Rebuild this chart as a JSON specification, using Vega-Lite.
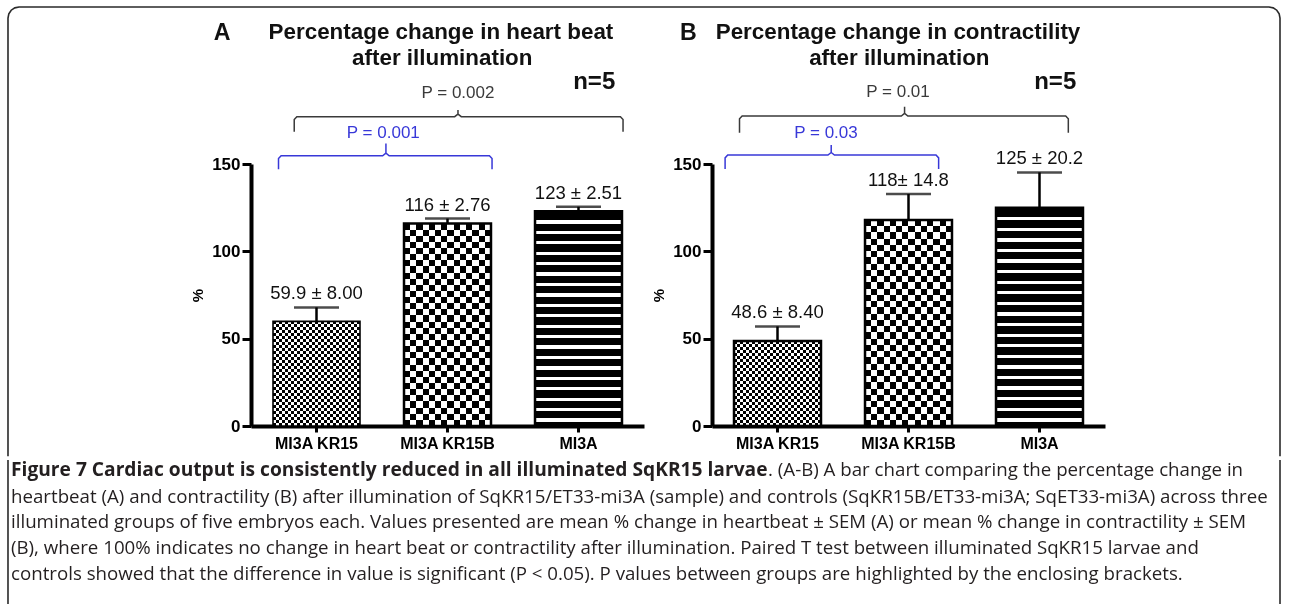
{
"$schema": "https://vega.github.io/schema/vega-lite/v6.json",
"padding": {"left": 4, "right": 0, "top": 3, "bottom": 0},
"background": "white",
"datasets": {
"barsA": [
{"group": "MI3A KR15", "mean": 59.9, "upper": 67.9, "label": "59.9 ± 8.00"},
{"group": "MI3A KR15B", "mean": 116, "upper": 118.76, "label": "116 ± 2.76"},
{"group": "MI3A", "mean": 123, "upper": 125.51, "label": "123 ± 2.51"}
],
"barsB": [
{"group": "MI3A KR15", "mean": 48.6, "upper": 57.0, "label": "48.6 ± 8.40"},
{"group": "MI3A KR15B", "mean": 118, "upper": 132.8, "label": "118± 14.8"},
{"group": "MI3A", "mean": 125, "upper": 145.2, "label": "125 ± 20.2"}
],
"brA": [
{"b": "A1", "k": "all", "o": 1, "bx": 0.83, "by": 168.5},
{"b": "A1", "k": "all", "o": 2, "bx": 0.83, "by": 175.5},
{"b": "A1", "k": "all", "o": 3, "bx": 0.85, "by": 177.1},
{"b": "A1", "k": "all", "o": 4, "bx": 2.055, "by": 177.1},
{"b": "A1", "k": "all", "o": 5, "bx": 2.08, "by": 178.6},
{"b": "A1", "k": "all", "o": 6, "bx": 2.08, "by": 180.9},
{"b": "A1", "k": "all", "o": 7, "bx": 2.08, "by": 178.6},
{"b": "A1", "k": "all", "o": 8, "bx": 2.105, "by": 177.1},
{"b": "A1", "k": "all", "o": 9, "bx": 3.32, "by": 177.1},
{"b": "A1", "k": "all", "o": 10, "bx": 3.34, "by": 175.5},
{"b": "A1", "k": "all", "o": 11, "bx": 3.34, "by": 168.5},
{"b": "A2", "k": "pair", "o": 1, "bx": 0.71, "by": 147},
{"b": "A2", "k": "pair", "o": 2, "bx": 0.71, "by": 153.1},
{"b": "A2", "k": "pair", "o": 3, "bx": 0.73, "by": 154.7},
{"b": "A2", "k": "pair", "o": 4, "bx": 1.505, "by": 154.7},
{"b": "A2", "k": "pair", "o": 5, "bx": 1.53, "by": 156.2},
{"b": "A2", "k": "pair", "o": 6, "bx": 1.53, "by": 161.8},
{"b": "A2", "k": "pair", "o": 7, "bx": 1.53, "by": 156.2},
{"b": "A2", "k": "pair", "o": 8, "bx": 1.555, "by": 154.7},
{"b": "A2", "k": "pair", "o": 9, "bx": 2.32, "by": 154.7},
{"b": "A2", "k": "pair", "o": 10, "bx": 2.34, "by": 153.1},
{"b": "A2", "k": "pair", "o": 11, "bx": 2.34, "by": 147}
],
"brB": [
{"b": "B1", "k": "all", "o": 1, "bx": 0.71, "by": 167.9},
{"b": "B1", "k": "all", "o": 2, "bx": 0.71, "by": 175.9},
{"b": "B1", "k": "all", "o": 3, "bx": 0.73, "by": 177.5},
{"b": "B1", "k": "all", "o": 4, "bx": 1.945, "by": 177.5},
{"b": "B1", "k": "all", "o": 5, "bx": 1.97, "by": 179},
{"b": "B1", "k": "all", "o": 6, "bx": 1.97, "by": 182.8},
{"b": "B1", "k": "all", "o": 7, "bx": 1.97, "by": 179},
{"b": "B1", "k": "all", "o": 8, "bx": 1.995, "by": 177.5},
{"b": "B1", "k": "all", "o": 9, "bx": 3.2, "by": 177.5},
{"b": "B1", "k": "all", "o": 10, "bx": 3.22, "by": 175.9},
{"b": "B1", "k": "all", "o": 11, "bx": 3.22, "by": 167.9},
{"b": "B2", "k": "pair", "o": 1, "bx": 0.6, "by": 147.1},
{"b": "B2", "k": "pair", "o": 2, "bx": 0.6, "by": 153.5},
{"b": "B2", "k": "pair", "o": 3, "bx": 0.62, "by": 155.1},
{"b": "B2", "k": "pair", "o": 4, "bx": 1.385, "by": 155.1},
{"b": "B2", "k": "pair", "o": 5, "bx": 1.41, "by": 156.6},
{"b": "B2", "k": "pair", "o": 6, "bx": 1.41, "by": 160.9},
{"b": "B2", "k": "pair", "o": 7, "bx": 1.41, "by": 156.6},
{"b": "B2", "k": "pair", "o": 8, "bx": 1.435, "by": 155.1},
{"b": "B2", "k": "pair", "o": 9, "bx": 2.21, "by": 155.1},
{"b": "B2", "k": "pair", "o": 10, "bx": 2.23, "by": 153.5},
{"b": "B2", "k": "pair", "o": 11, "bx": 2.23, "by": 147.1}
],
"frA": [
{"o": 1, "bx": -1.355, "by": -17.3},
{"o": 2, "bx": -1.355, "by": 233.6},
{"o": 3, "bx": -1.3486, "by": 235.99},
{"o": 4, "bx": -1.3305, "by": 238.05},
{"o": 5, "bx": -1.3031, "by": 239.4},
{"o": 6, "bx": -1.271, "by": 239.88},
{"o": 7, "bx": 3.5, "by": 239.88}
],
"frB": [
{"o": 1, "bx": -0.0191, "by": 239.88},
{"o": 2, "bx": 4.7519, "by": 239.88},
{"o": 3, "bx": 4.784, "by": 239.4},
{"o": 4, "bx": 4.8113, "by": 238.05},
{"o": 5, "bx": 4.8295, "by": 235.99},
{"o": 6, "bx": 4.8359, "by": 233.6},
{"o": 7, "bx": 4.8359, "by": -17.3}
],
"txA": [
{"k": "title", "t": "Percentage change in heart beat", "bx": 1.95, "by": 225.6},
{"k": "title", "t": "after illumination", "bx": 1.96, "by": 210.7},
{"k": "letter", "t": "A", "bx": 0.28, "by": 225},
{"k": "n", "t": "n=5", "bx": 3.12, "by": 197},
{"k": "all", "t": "P = 0.002", "bx": 2.08, "by": 190.9},
{"k": "pair", "t": "P = 0.001", "bx": 1.51, "by": 167.7}
],
"txB": [
{"k": "title", "t": "Percentage change in contractility", "bx": 1.92, "by": 225.7},
{"k": "title", "t": "after illumination", "bx": 1.93, "by": 210.5},
{"k": "letter", "t": "B", "bx": 0.32, "by": 225},
{"k": "n", "t": "n=5", "bx": 3.12, "by": 197.1},
{"k": "all", "t": "P = 0.01", "bx": 1.92, "by": 191.4},
{"k": "pair", "t": "P = 0.03", "bx": 1.37, "by": 167.6}
],
"capF": [
{"f": "L", "cx": -1.355, "cy": -15},
{"f": "L", "cx": -1.355, "cy": -101},
{"f": "R", "cx": 8.355, "cy": -15},
{"f": "R", "cx": 8.355, "cy": -101}
],
"cap": [
{"p": "b", "cx": -1.332, "cy": -20.6, "t": "Figure 7 Cardiac output is consistently reduced in all illuminated SqKR15 larvae"},
{"p": "n", "cx": 4.447, "cy": -20.6, "t": ". (A-B) A bar chart comparing the percentage change in"},
{"p": "n", "cx": -1.332, "cy": -36.06, "t": "heartbeat (A) and contractility (B) after illumination of SqKR15/ET33-mi3A (sample) and controls (SqKR15B/ET33-mi3A; SqET33-mi3A) across three"},
{"p": "n", "cx": -1.332, "cy": -50.37, "t": "illuminated groups of five embryos each. Values presented are mean % change in heartbeat ± SEM (A) or mean % change in contractility ± SEM"},
{"p": "n", "cx": -1.332, "cy": -65.26, "t": "(B), where 100% indicates no change in heart beat or contractility after illumination. Paired T test between illuminated SqKR15 larvae and"},
{"p": "n", "cx": -1.332, "cy": -80.14, "t": "controls showed that the difference in value is significant (P < 0.05). P values between groups are highlighted by the enclosing brackets."}
]
},
"vconcat": [
{
"hconcat": [
{
"width": 393, "height": 262,
"layer": [
{
"data": {"name": "barsA"},
"encoding": {
"x": {"field": "group", "type": "nominal", "title": null, "scale": {"domain": ["MI3A KR15", "MI3A KR15B", "MI3A"], "paddingInner": 0.336, "paddingOuter": 0.168}},
"y": {"field": "mean", "type": "quantitative", "title": "%", "scale": {"domain": [0, 150], "nice": false}, "axis": {"values": [0, 50, 100, 150]}}
},
"layer": [
{"transform": [{"filter": "datum.group === 'MI3A KR15'"}], "mark": {"type": "bar", "fill": {"gradient": "linear", "x1": 0, "y1": 0, "x2": 1, "y2": 0, "stops": [{"offset":0,"color":"#000"},{"offset":0.0345,"color":"#000"},{"offset":0.0345,"color":"#fff"},{"offset":0.069,"color":"#fff"},{"offset":0.069,"color":"#000"},{"offset":0.1034,"color":"#000"},{"offset":0.1034,"color":"#fff"},{"offset":0.1379,"color":"#fff"},{"offset":0.1379,"color":"#000"},{"offset":0.1724,"color":"#000"},{"offset":0.1724,"color":"#fff"},{"offset":0.2069,"color":"#fff"},{"offset":0.2069,"color":"#000"},{"offset":0.2414,"color":"#000"},{"offset":0.2414,"color":"#fff"},{"offset":0.2759,"color":"#fff"},{"offset":0.2759,"color":"#000"},{"offset":0.3103,"color":"#000"},{"offset":0.3103,"color":"#fff"},{"offset":0.3448,"color":"#fff"},{"offset":0.3448,"color":"#000"},{"offset":0.3793,"color":"#000"},{"offset":0.3793,"color":"#fff"},{"offset":0.4138,"color":"#fff"},{"offset":0.4138,"color":"#000"},{"offset":0.4483,"color":"#000"},{"offset":0.4483,"color":"#fff"},{"offset":0.4828,"color":"#fff"},{"offset":0.4828,"color":"#000"},{"offset":0.5172,"color":"#000"},{"offset":0.5172,"color":"#fff"},{"offset":0.5517,"color":"#fff"},{"offset":0.5517,"color":"#000"},{"offset":0.5862,"color":"#000"},{"offset":0.5862,"color":"#fff"},{"offset":0.6207,"color":"#fff"},{"offset":0.6207,"color":"#000"},{"offset":0.6552,"color":"#000"},{"offset":0.6552,"color":"#fff"},{"offset":0.6897,"color":"#fff"},{"offset":0.6897,"color":"#000"},{"offset":0.7241,"color":"#000"},{"offset":0.7241,"color":"#fff"},{"offset":0.7586,"color":"#fff"},{"offset":0.7586,"color":"#000"},{"offset":0.7931,"color":"#000"},{"offset":0.7931,"color":"#fff"},{"offset":0.8276,"color":"#fff"},{"offset":0.8276,"color":"#000"},{"offset":0.8621,"color":"#000"},{"offset":0.8621,"color":"#fff"},{"offset":0.8966,"color":"#fff"},{"offset":0.8966,"color":"#000"},{"offset":0.931,"color":"#000"},{"offset":0.931,"color":"#fff"},{"offset":0.9655,"color":"#fff"},{"offset":0.9655,"color":"#000"},{"offset":1,"color":"#000"}]}}},
{"transform": [{"filter": "datum.group === 'MI3A KR15'"}], "mark": {"type": "bar", "blend": "difference", "fill": {"gradient": "linear", "x1": 0, "y1": 0, "x2": 0, "y2": 1, "stops": [{"offset":0,"color":"#000"},{"offset":0.0286,"color":"#000"},{"offset":0.0286,"color":"#fff"},{"offset":0.0571,"color":"#fff"},{"offset":0.0571,"color":"#000"},{"offset":0.0857,"color":"#000"},{"offset":0.0857,"color":"#fff"},{"offset":0.1143,"color":"#fff"},{"offset":0.1143,"color":"#000"},{"offset":0.1429,"color":"#000"},{"offset":0.1429,"color":"#fff"},{"offset":0.1714,"color":"#fff"},{"offset":0.1714,"color":"#000"},{"offset":0.2,"color":"#000"},{"offset":0.2,"color":"#fff"},{"offset":0.2286,"color":"#fff"},{"offset":0.2286,"color":"#000"},{"offset":0.2571,"color":"#000"},{"offset":0.2571,"color":"#fff"},{"offset":0.2857,"color":"#fff"},{"offset":0.2857,"color":"#000"},{"offset":0.3143,"color":"#000"},{"offset":0.3143,"color":"#fff"},{"offset":0.3429,"color":"#fff"},{"offset":0.3429,"color":"#000"},{"offset":0.3714,"color":"#000"},{"offset":0.3714,"color":"#fff"},{"offset":0.4,"color":"#fff"},{"offset":0.4,"color":"#000"},{"offset":0.4286,"color":"#000"},{"offset":0.4286,"color":"#fff"},{"offset":0.4571,"color":"#fff"},{"offset":0.4571,"color":"#000"},{"offset":0.4857,"color":"#000"},{"offset":0.4857,"color":"#fff"},{"offset":0.5143,"color":"#fff"},{"offset":0.5143,"color":"#000"},{"offset":0.5429,"color":"#000"},{"offset":0.5429,"color":"#fff"},{"offset":0.5714,"color":"#fff"},{"offset":0.5714,"color":"#000"},{"offset":0.6,"color":"#000"},{"offset":0.6,"color":"#fff"},{"offset":0.6286,"color":"#fff"},{"offset":0.6286,"color":"#000"},{"offset":0.6571,"color":"#000"},{"offset":0.6571,"color":"#fff"},{"offset":0.6857,"color":"#fff"},{"offset":0.6857,"color":"#000"},{"offset":0.7143,"color":"#000"},{"offset":0.7143,"color":"#fff"},{"offset":0.7429,"color":"#fff"},{"offset":0.7429,"color":"#000"},{"offset":0.7714,"color":"#000"},{"offset":0.7714,"color":"#fff"},{"offset":0.8,"color":"#fff"},{"offset":0.8,"color":"#000"},{"offset":0.8286,"color":"#000"},{"offset":0.8286,"color":"#fff"},{"offset":0.8571,"color":"#fff"},{"offset":0.8571,"color":"#000"},{"offset":0.8857,"color":"#000"},{"offset":0.8857,"color":"#fff"},{"offset":0.9143,"color":"#fff"},{"offset":0.9143,"color":"#000"},{"offset":0.9429,"color":"#000"},{"offset":0.9429,"color":"#fff"},{"offset":0.9714,"color":"#fff"},{"offset":0.9714,"color":"#000"},{"offset":1,"color":"#000"}]}}},
{"transform": [{"filter": "datum.group === 'MI3A KR15B'"}], "mark": {"type": "bar", "fill": {"gradient": "linear", "x1": 0, "y1": 0, "x2": 1, "y2": 0, "stops": [{"offset":0,"color":"#000"},{"offset":0.0714,"color":"#000"},{"offset":0.0714,"color":"#fff"},{"offset":0.1429,"color":"#fff"},{"offset":0.1429,"color":"#000"},{"offset":0.2143,"color":"#000"},{"offset":0.2143,"color":"#fff"},{"offset":0.2857,"color":"#fff"},{"offset":0.2857,"color":"#000"},{"offset":0.3571,"color":"#000"},{"offset":0.3571,"color":"#fff"},{"offset":0.4286,"color":"#fff"},{"offset":0.4286,"color":"#000"},{"offset":0.5,"color":"#000"},{"offset":0.5,"color":"#fff"},{"offset":0.5714,"color":"#fff"},{"offset":0.5714,"color":"#000"},{"offset":0.6429,"color":"#000"},{"offset":0.6429,"color":"#fff"},{"offset":0.7143,"color":"#fff"},{"offset":0.7143,"color":"#000"},{"offset":0.7857,"color":"#000"},{"offset":0.7857,"color":"#fff"},{"offset":0.8571,"color":"#fff"},{"offset":0.8571,"color":"#000"},{"offset":0.9286,"color":"#000"},{"offset":0.9286,"color":"#fff"},{"offset":1,"color":"#fff"}]}}},
{"transform": [{"filter": "datum.group === 'MI3A KR15B'"}], "mark": {"type": "bar", "blend": "difference", "fill": {"gradient": "linear", "x1": 0, "y1": 0, "x2": 0, "y2": 1, "stops": [{"offset":0,"color":"#000"},{"offset":0.0303,"color":"#000"},{"offset":0.0303,"color":"#fff"},{"offset":0.0606,"color":"#fff"},{"offset":0.0606,"color":"#000"},{"offset":0.0909,"color":"#000"},{"offset":0.0909,"color":"#fff"},{"offset":0.1212,"color":"#fff"},{"offset":0.1212,"color":"#000"},{"offset":0.1515,"color":"#000"},{"offset":0.1515,"color":"#fff"},{"offset":0.1818,"color":"#fff"},{"offset":0.1818,"color":"#000"},{"offset":0.2121,"color":"#000"},{"offset":0.2121,"color":"#fff"},{"offset":0.2424,"color":"#fff"},{"offset":0.2424,"color":"#000"},{"offset":0.2727,"color":"#000"},{"offset":0.2727,"color":"#fff"},{"offset":0.303,"color":"#fff"},{"offset":0.303,"color":"#000"},{"offset":0.3333,"color":"#000"},{"offset":0.3333,"color":"#fff"},{"offset":0.3636,"color":"#fff"},{"offset":0.3636,"color":"#000"},{"offset":0.3939,"color":"#000"},{"offset":0.3939,"color":"#fff"},{"offset":0.4242,"color":"#fff"},{"offset":0.4242,"color":"#000"},{"offset":0.4545,"color":"#000"},{"offset":0.4545,"color":"#fff"},{"offset":0.4848,"color":"#fff"},{"offset":0.4848,"color":"#000"},{"offset":0.5152,"color":"#000"},{"offset":0.5152,"color":"#fff"},{"offset":0.5455,"color":"#fff"},{"offset":0.5455,"color":"#000"},{"offset":0.5758,"color":"#000"},{"offset":0.5758,"color":"#fff"},{"offset":0.6061,"color":"#fff"},{"offset":0.6061,"color":"#000"},{"offset":0.6364,"color":"#000"},{"offset":0.6364,"color":"#fff"},{"offset":0.6667,"color":"#fff"},{"offset":0.6667,"color":"#000"},{"offset":0.697,"color":"#000"},{"offset":0.697,"color":"#fff"},{"offset":0.7273,"color":"#fff"},{"offset":0.7273,"color":"#000"},{"offset":0.7576,"color":"#000"},{"offset":0.7576,"color":"#fff"},{"offset":0.7879,"color":"#fff"},{"offset":0.7879,"color":"#000"},{"offset":0.8182,"color":"#000"},{"offset":0.8182,"color":"#fff"},{"offset":0.8485,"color":"#fff"},{"offset":0.8485,"color":"#000"},{"offset":0.8788,"color":"#000"},{"offset":0.8788,"color":"#fff"},{"offset":0.9091,"color":"#fff"},{"offset":0.9091,"color":"#000"},{"offset":0.9394,"color":"#000"},{"offset":0.9394,"color":"#fff"},{"offset":0.9697,"color":"#fff"},{"offset":0.9697,"color":"#000"},{"offset":1,"color":"#000"}]}}},
{"transform": [{"filter": "datum.group === 'MI3A'"}], "mark": {"type": "bar", "fill": {"gradient": "linear", "x1": 0, "y1": 0, "x2": 0, "y2": 1, "stops": [{"offset":0,"color":"#000"},{"offset":0.0429,"color":"#000"},{"offset":0.0429,"color":"#fff"},{"offset":0.0581,"color":"#fff"},{"offset":0.0581,"color":"#000"},{"offset":0.0914,"color":"#000"},{"offset":0.0914,"color":"#fff"},{"offset":0.1066,"color":"#fff"},{"offset":0.1066,"color":"#000"},{"offset":0.1399,"color":"#000"},{"offset":0.1399,"color":"#fff"},{"offset":0.1551,"color":"#fff"},{"offset":0.1551,"color":"#000"},{"offset":0.1884,"color":"#000"},{"offset":0.1884,"color":"#fff"},{"offset":0.2036,"color":"#fff"},{"offset":0.2036,"color":"#000"},{"offset":0.2369,"color":"#000"},{"offset":0.2369,"color":"#fff"},{"offset":0.2521,"color":"#fff"},{"offset":0.2521,"color":"#000"},{"offset":0.2854,"color":"#000"},{"offset":0.2854,"color":"#fff"},{"offset":0.3006,"color":"#fff"},{"offset":0.3006,"color":"#000"},{"offset":0.3339,"color":"#000"},{"offset":0.3339,"color":"#fff"},{"offset":0.3491,"color":"#fff"},{"offset":0.3491,"color":"#000"},{"offset":0.3824,"color":"#000"},{"offset":0.3824,"color":"#fff"},{"offset":0.3976,"color":"#fff"},{"offset":0.3976,"color":"#000"},{"offset":0.4309,"color":"#000"},{"offset":0.4309,"color":"#fff"},{"offset":0.4461,"color":"#fff"},{"offset":0.4461,"color":"#000"},{"offset":0.4794,"color":"#000"},{"offset":0.4794,"color":"#fff"},{"offset":0.4946,"color":"#fff"},{"offset":0.4946,"color":"#000"},{"offset":0.5279,"color":"#000"},{"offset":0.5279,"color":"#fff"},{"offset":0.5431,"color":"#fff"},{"offset":0.5431,"color":"#000"},{"offset":0.5764,"color":"#000"},{"offset":0.5764,"color":"#fff"},{"offset":0.5916,"color":"#fff"},{"offset":0.5916,"color":"#000"},{"offset":0.6249,"color":"#000"},{"offset":0.6249,"color":"#fff"},{"offset":0.6401,"color":"#fff"},{"offset":0.6401,"color":"#000"},{"offset":0.6734,"color":"#000"},{"offset":0.6734,"color":"#fff"},{"offset":0.6886,"color":"#fff"},{"offset":0.6886,"color":"#000"},{"offset":0.7219,"color":"#000"},{"offset":0.7219,"color":"#fff"},{"offset":0.7371,"color":"#fff"},{"offset":0.7371,"color":"#000"},{"offset":0.7704,"color":"#000"},{"offset":0.7704,"color":"#fff"},{"offset":0.7856,"color":"#fff"},{"offset":0.7856,"color":"#000"},{"offset":0.8189,"color":"#000"},{"offset":0.8189,"color":"#fff"},{"offset":0.8341,"color":"#fff"},{"offset":0.8341,"color":"#000"},{"offset":0.8674,"color":"#000"},{"offset":0.8674,"color":"#fff"},{"offset":0.8826,"color":"#fff"},{"offset":0.8826,"color":"#000"},{"offset":0.9159,"color":"#000"},{"offset":0.9159,"color":"#fff"},{"offset":0.9311,"color":"#fff"},{"offset":0.9311,"color":"#000"},{"offset":0.9644,"color":"#000"},{"offset":0.9644,"color":"#fff"},{"offset":0.9796,"color":"#fff"},{"offset":0.9796,"color":"#000"},{"offset":1,"color":"#000"}]}}},
{"transform": [{"filter": "datum.group === 'MI3A KR15'"}], "mark": {"type": "bar", "fillOpacity": 0, "stroke": "#000", "strokeWidth": 1.6}},
{"transform": [{"filter": "datum.group !== 'MI3A KR15'"}], "mark": {"type": "bar", "fillOpacity": 0, "stroke": "#000", "strokeWidth": 2.5}},
{"mark": {"type": "rule", "color": "#000", "strokeWidth": 2.5}, "encoding": {"y2": {"field": "upper"}}},
{"mark": {"type": "tick", "color": "#000", "size": 45, "thickness": 2.5}, "encoding": {"y": {"field": "upper", "type": "quantitative", "title": "%"}}},
{"mark": {"type": "text", "baseline": "bottom", "dy": -4, "fontSize": 18.5, "color": "#111"}, "encoding": {"y": {"field": "upper", "type": "quantitative", "title": "%"}, "text": {"field": "label"}}}
]
},
{
"encoding": {
"x": {"field": "bx", "type": "quantitative", "axis": null, "scale": {"domain": [0.5, 3.5], "nice": false, "zero": false}},
"y": {"field": "by", "type": "quantitative", "title": "%", "scale": {"domain": [0, 150], "nice": false}}
},
"layer": [
{"data": {"name": "frA"}, "mark": {"type": "line", "strokeWidth": 1.6, "color": "#2a2a2a"}, "encoding": {"order": {"field": "o", "type": "quantitative"}}},
{"data": {"name": "brA"}, "mark": {"type": "line", "strokeWidth": 1.5}, "encoding": {"detail": {"field": "b"}, "order": {"field": "o", "type": "quantitative"}, "color": {"field": "k", "type": "nominal", "scale": {"domain": ["all", "pair"], "range": ["#3a3a3a", "#3838d8"]}, "legend": null}}},
{"data": {"name": "txA"}, "transform": [{"filter": "datum.k !== 'all' && datum.k !== 'pair'"}], "mark": {"type": "text", "fontWeight": "bold", "baseline": "middle", "color": "#111"}, "encoding": {"text": {"field": "t"}, "size": {"field": "k", "type": "nominal", "scale": {"domain": ["title", "letter", "n"], "range": [22.4, 24, 18]}, "legend": null}}},
{"data": {"name": "txA"}, "transform": [{"filter": "datum.k === 'all' || datum.k === 'pair'"}], "mark": {"type": "text", "baseline": "middle", "fontSize": 17}, "encoding": {"text": {"field": "t"}, "color": {"field": "k", "type": "nominal", "scale": {"domain": ["all", "pair"], "range": ["#3a3a3a", "#3838d8"]}, "legend": null}}}
]
}
],
"resolve": {"scale": {"x": "independent"}}
},
{
"width": 393, "height": 262,
"layer": [
{
"data": {"name": "barsB"},
"encoding": {
"x": {"field": "group", "type": "nominal", "title": null, "scale": {"domain": ["MI3A KR15", "MI3A KR15B", "MI3A"], "paddingInner": 0.336, "paddingOuter": 0.168}},
"y": {"field": "mean", "type": "quantitative", "title": "%", "scale": {"domain": [0, 150], "nice": false}, "axis": {"values": [0, 50, 100, 150]}}
},
"layer": [
{"transform": [{"filter": "datum.group === 'MI3A KR15'"}], "mark": {"type": "bar", "fill": {"gradient": "linear", "x1": 0, "y1": 0, "x2": 1, "y2": 0, "stops": [{"offset":0,"color":"#000"},{"offset":0.0345,"color":"#000"},{"offset":0.0345,"color":"#fff"},{"offset":0.069,"color":"#fff"},{"offset":0.069,"color":"#000"},{"offset":0.1034,"color":"#000"},{"offset":0.1034,"color":"#fff"},{"offset":0.1379,"color":"#fff"},{"offset":0.1379,"color":"#000"},{"offset":0.1724,"color":"#000"},{"offset":0.1724,"color":"#fff"},{"offset":0.2069,"color":"#fff"},{"offset":0.2069,"color":"#000"},{"offset":0.2414,"color":"#000"},{"offset":0.2414,"color":"#fff"},{"offset":0.2759,"color":"#fff"},{"offset":0.2759,"color":"#000"},{"offset":0.3103,"color":"#000"},{"offset":0.3103,"color":"#fff"},{"offset":0.3448,"color":"#fff"},{"offset":0.3448,"color":"#000"},{"offset":0.3793,"color":"#000"},{"offset":0.3793,"color":"#fff"},{"offset":0.4138,"color":"#fff"},{"offset":0.4138,"color":"#000"},{"offset":0.4483,"color":"#000"},{"offset":0.4483,"color":"#fff"},{"offset":0.4828,"color":"#fff"},{"offset":0.4828,"color":"#000"},{"offset":0.5172,"color":"#000"},{"offset":0.5172,"color":"#fff"},{"offset":0.5517,"color":"#fff"},{"offset":0.5517,"color":"#000"},{"offset":0.5862,"color":"#000"},{"offset":0.5862,"color":"#fff"},{"offset":0.6207,"color":"#fff"},{"offset":0.6207,"color":"#000"},{"offset":0.6552,"color":"#000"},{"offset":0.6552,"color":"#fff"},{"offset":0.6897,"color":"#fff"},{"offset":0.6897,"color":"#000"},{"offset":0.7241,"color":"#000"},{"offset":0.7241,"color":"#fff"},{"offset":0.7586,"color":"#fff"},{"offset":0.7586,"color":"#000"},{"offset":0.7931,"color":"#000"},{"offset":0.7931,"color":"#fff"},{"offset":0.8276,"color":"#fff"},{"offset":0.8276,"color":"#000"},{"offset":0.8621,"color":"#000"},{"offset":0.8621,"color":"#fff"},{"offset":0.8966,"color":"#fff"},{"offset":0.8966,"color":"#000"},{"offset":0.931,"color":"#000"},{"offset":0.931,"color":"#fff"},{"offset":0.9655,"color":"#fff"},{"offset":0.9655,"color":"#000"},{"offset":1,"color":"#000"}]}}},
{"transform": [{"filter": "datum.group === 'MI3A KR15'"}], "mark": {"type": "bar", "blend": "difference", "fill": {"gradient": "linear", "x1": 0, "y1": 0, "x2": 0, "y2": 1, "stops": [{"offset":0,"color":"#000"},{"offset":0.0357,"color":"#000"},{"offset":0.0357,"color":"#fff"},{"offset":0.0714,"color":"#fff"},{"offset":0.0714,"color":"#000"},{"offset":0.1071,"color":"#000"},{"offset":0.1071,"color":"#fff"},{"offset":0.1429,"color":"#fff"},{"offset":0.1429,"color":"#000"},{"offset":0.1786,"color":"#000"},{"offset":0.1786,"color":"#fff"},{"offset":0.2143,"color":"#fff"},{"offset":0.2143,"color":"#000"},{"offset":0.25,"color":"#000"},{"offset":0.25,"color":"#fff"},{"offset":0.2857,"color":"#fff"},{"offset":0.2857,"color":"#000"},{"offset":0.3214,"color":"#000"},{"offset":0.3214,"color":"#fff"},{"offset":0.3571,"color":"#fff"},{"offset":0.3571,"color":"#000"},{"offset":0.3929,"color":"#000"},{"offset":0.3929,"color":"#fff"},{"offset":0.4286,"color":"#fff"},{"offset":0.4286,"color":"#000"},{"offset":0.4643,"color":"#000"},{"offset":0.4643,"color":"#fff"},{"offset":0.5,"color":"#fff"},{"offset":0.5,"color":"#000"},{"offset":0.5357,"color":"#000"},{"offset":0.5357,"color":"#fff"},{"offset":0.5714,"color":"#fff"},{"offset":0.5714,"color":"#000"},{"offset":0.6071,"color":"#000"},{"offset":0.6071,"color":"#fff"},{"offset":0.6429,"color":"#fff"},{"offset":0.6429,"color":"#000"},{"offset":0.6786,"color":"#000"},{"offset":0.6786,"color":"#fff"},{"offset":0.7143,"color":"#fff"},{"offset":0.7143,"color":"#000"},{"offset":0.75,"color":"#000"},{"offset":0.75,"color":"#fff"},{"offset":0.7857,"color":"#fff"},{"offset":0.7857,"color":"#000"},{"offset":0.8214,"color":"#000"},{"offset":0.8214,"color":"#fff"},{"offset":0.8571,"color":"#fff"},{"offset":0.8571,"color":"#000"},{"offset":0.8929,"color":"#000"},{"offset":0.8929,"color":"#fff"},{"offset":0.9286,"color":"#fff"},{"offset":0.9286,"color":"#000"},{"offset":0.9643,"color":"#000"},{"offset":0.9643,"color":"#fff"},{"offset":1,"color":"#fff"}]}}},
{"transform": [{"filter": "datum.group === 'MI3A KR15B'"}], "mark": {"type": "bar", "fill": {"gradient": "linear", "x1": 0, "y1": 0, "x2": 1, "y2": 0, "stops": [{"offset":0,"color":"#000"},{"offset":0.0714,"color":"#000"},{"offset":0.0714,"color":"#fff"},{"offset":0.1429,"color":"#fff"},{"offset":0.1429,"color":"#000"},{"offset":0.2143,"color":"#000"},{"offset":0.2143,"color":"#fff"},{"offset":0.2857,"color":"#fff"},{"offset":0.2857,"color":"#000"},{"offset":0.3571,"color":"#000"},{"offset":0.3571,"color":"#fff"},{"offset":0.4286,"color":"#fff"},{"offset":0.4286,"color":"#000"},{"offset":0.5,"color":"#000"},{"offset":0.5,"color":"#fff"},{"offset":0.5714,"color":"#fff"},{"offset":0.5714,"color":"#000"},{"offset":0.6429,"color":"#000"},{"offset":0.6429,"color":"#fff"},{"offset":0.7143,"color":"#fff"},{"offset":0.7143,"color":"#000"},{"offset":0.7857,"color":"#000"},{"offset":0.7857,"color":"#fff"},{"offset":0.8571,"color":"#fff"},{"offset":0.8571,"color":"#000"},{"offset":0.9286,"color":"#000"},{"offset":0.9286,"color":"#fff"},{"offset":1,"color":"#fff"}]}}},
{"transform": [{"filter": "datum.group === 'MI3A KR15B'"}], "mark": {"type": "bar", "blend": "difference", "fill": {"gradient": "linear", "x1": 0, "y1": 0, "x2": 0, "y2": 1, "stops": [{"offset":0,"color":"#000"},{"offset":0.0303,"color":"#000"},{"offset":0.0303,"color":"#fff"},{"offset":0.0606,"color":"#fff"},{"offset":0.0606,"color":"#000"},{"offset":0.0909,"color":"#000"},{"offset":0.0909,"color":"#fff"},{"offset":0.1212,"color":"#fff"},{"offset":0.1212,"color":"#000"},{"offset":0.1515,"color":"#000"},{"offset":0.1515,"color":"#fff"},{"offset":0.1818,"color":"#fff"},{"offset":0.1818,"color":"#000"},{"offset":0.2121,"color":"#000"},{"offset":0.2121,"color":"#fff"},{"offset":0.2424,"color":"#fff"},{"offset":0.2424,"color":"#000"},{"offset":0.2727,"color":"#000"},{"offset":0.2727,"color":"#fff"},{"offset":0.303,"color":"#fff"},{"offset":0.303,"color":"#000"},{"offset":0.3333,"color":"#000"},{"offset":0.3333,"color":"#fff"},{"offset":0.3636,"color":"#fff"},{"offset":0.3636,"color":"#000"},{"offset":0.3939,"color":"#000"},{"offset":0.3939,"color":"#fff"},{"offset":0.4242,"color":"#fff"},{"offset":0.4242,"color":"#000"},{"offset":0.4545,"color":"#000"},{"offset":0.4545,"color":"#fff"},{"offset":0.4848,"color":"#fff"},{"offset":0.4848,"color":"#000"},{"offset":0.5152,"color":"#000"},{"offset":0.5152,"color":"#fff"},{"offset":0.5455,"color":"#fff"},{"offset":0.5455,"color":"#000"},{"offset":0.5758,"color":"#000"},{"offset":0.5758,"color":"#fff"},{"offset":0.6061,"color":"#fff"},{"offset":0.6061,"color":"#000"},{"offset":0.6364,"color":"#000"},{"offset":0.6364,"color":"#fff"},{"offset":0.6667,"color":"#fff"},{"offset":0.6667,"color":"#000"},{"offset":0.697,"color":"#000"},{"offset":0.697,"color":"#fff"},{"offset":0.7273,"color":"#fff"},{"offset":0.7273,"color":"#000"},{"offset":0.7576,"color":"#000"},{"offset":0.7576,"color":"#fff"},{"offset":0.7879,"color":"#fff"},{"offset":0.7879,"color":"#000"},{"offset":0.8182,"color":"#000"},{"offset":0.8182,"color":"#fff"},{"offset":0.8485,"color":"#fff"},{"offset":0.8485,"color":"#000"},{"offset":0.8788,"color":"#000"},{"offset":0.8788,"color":"#fff"},{"offset":0.9091,"color":"#fff"},{"offset":0.9091,"color":"#000"},{"offset":0.9394,"color":"#000"},{"offset":0.9394,"color":"#fff"},{"offset":0.9697,"color":"#fff"},{"offset":0.9697,"color":"#000"},{"offset":1,"color":"#000"}]}}},
{"transform": [{"filter": "datum.group === 'MI3A'"}], "mark": {"type": "bar", "fill": {"gradient": "linear", "x1": 0, "y1": 0, "x2": 0, "y2": 1, "stops": [{"offset":0,"color":"#000"},{"offset":0.0429,"color":"#000"},{"offset":0.0429,"color":"#fff"},{"offset":0.0581,"color":"#fff"},{"offset":0.0581,"color":"#000"},{"offset":0.0914,"color":"#000"},{"offset":0.0914,"color":"#fff"},{"offset":0.1066,"color":"#fff"},{"offset":0.1066,"color":"#000"},{"offset":0.1399,"color":"#000"},{"offset":0.1399,"color":"#fff"},{"offset":0.1551,"color":"#fff"},{"offset":0.1551,"color":"#000"},{"offset":0.1884,"color":"#000"},{"offset":0.1884,"color":"#fff"},{"offset":0.2036,"color":"#fff"},{"offset":0.2036,"color":"#000"},{"offset":0.2369,"color":"#000"},{"offset":0.2369,"color":"#fff"},{"offset":0.2521,"color":"#fff"},{"offset":0.2521,"color":"#000"},{"offset":0.2854,"color":"#000"},{"offset":0.2854,"color":"#fff"},{"offset":0.3006,"color":"#fff"},{"offset":0.3006,"color":"#000"},{"offset":0.3339,"color":"#000"},{"offset":0.3339,"color":"#fff"},{"offset":0.3491,"color":"#fff"},{"offset":0.3491,"color":"#000"},{"offset":0.3824,"color":"#000"},{"offset":0.3824,"color":"#fff"},{"offset":0.3976,"color":"#fff"},{"offset":0.3976,"color":"#000"},{"offset":0.4309,"color":"#000"},{"offset":0.4309,"color":"#fff"},{"offset":0.4461,"color":"#fff"},{"offset":0.4461,"color":"#000"},{"offset":0.4794,"color":"#000"},{"offset":0.4794,"color":"#fff"},{"offset":0.4946,"color":"#fff"},{"offset":0.4946,"color":"#000"},{"offset":0.5279,"color":"#000"},{"offset":0.5279,"color":"#fff"},{"offset":0.5431,"color":"#fff"},{"offset":0.5431,"color":"#000"},{"offset":0.5764,"color":"#000"},{"offset":0.5764,"color":"#fff"},{"offset":0.5916,"color":"#fff"},{"offset":0.5916,"color":"#000"},{"offset":0.6249,"color":"#000"},{"offset":0.6249,"color":"#fff"},{"offset":0.6401,"color":"#fff"},{"offset":0.6401,"color":"#000"},{"offset":0.6734,"color":"#000"},{"offset":0.6734,"color":"#fff"},{"offset":0.6886,"color":"#fff"},{"offset":0.6886,"color":"#000"},{"offset":0.7219,"color":"#000"},{"offset":0.7219,"color":"#fff"},{"offset":0.7371,"color":"#fff"},{"offset":0.7371,"color":"#000"},{"offset":0.7704,"color":"#000"},{"offset":0.7704,"color":"#fff"},{"offset":0.7856,"color":"#fff"},{"offset":0.7856,"color":"#000"},{"offset":0.8189,"color":"#000"},{"offset":0.8189,"color":"#fff"},{"offset":0.8341,"color":"#fff"},{"offset":0.8341,"color":"#000"},{"offset":0.8674,"color":"#000"},{"offset":0.8674,"color":"#fff"},{"offset":0.8826,"color":"#fff"},{"offset":0.8826,"color":"#000"},{"offset":0.9159,"color":"#000"},{"offset":0.9159,"color":"#fff"},{"offset":0.9311,"color":"#fff"},{"offset":0.9311,"color":"#000"},{"offset":0.9644,"color":"#000"},{"offset":0.9644,"color":"#fff"},{"offset":0.9796,"color":"#fff"},{"offset":0.9796,"color":"#000"},{"offset":1,"color":"#000"}]}}},
{"transform": [{"filter": "datum.group === 'MI3A KR15'"}], "mark": {"type": "bar", "fillOpacity": 0, "stroke": "#000", "strokeWidth": 2.5}},
{"transform": [{"filter": "datum.group !== 'MI3A KR15'"}], "mark": {"type": "bar", "fillOpacity": 0, "stroke": "#000", "strokeWidth": 2.5}},
{"mark": {"type": "rule", "color": "#000", "strokeWidth": 2.5}, "encoding": {"y2": {"field": "upper"}}},
{"mark": {"type": "tick", "color": "#000", "size": 45, "thickness": 2.5}, "encoding": {"y": {"field": "upper", "type": "quantitative", "title": "%"}}},
{"mark": {"type": "text", "baseline": "bottom", "dy": -4, "fontSize": 18.5, "color": "#111"}, "encoding": {"y": {"field": "upper", "type": "quantitative", "title": "%"}, "text": {"field": "label"}}}
]
},
{
"encoding": {
"x": {"field": "bx", "type": "quantitative", "axis": null, "scale": {"domain": [0.5, 3.5], "nice": false, "zero": false}},
"y": {"field": "by", "type": "quantitative", "title": "%", "scale": {"domain": [0, 150], "nice": false}}
},
"layer": [
{"data": {"name": "frB"}, "mark": {"type": "line", "strokeWidth": 1.6, "color": "#2a2a2a"}, "encoding": {"order": {"field": "o", "type": "quantitative"}}},
{"data": {"name": "brB"}, "mark": {"type": "line", "strokeWidth": 1.5}, "encoding": {"detail": {"field": "b"}, "order": {"field": "o", "type": "quantitative"}, "color": {"field": "k", "type": "nominal", "scale": {"domain": ["all", "pair"], "range": ["#3a3a3a", "#3838d8"]}, "legend": null}}},
{"data": {"name": "txB"}, "transform": [{"filter": "datum.k !== 'all' && datum.k !== 'pair'"}], "mark": {"type": "text", "fontWeight": "bold", "baseline": "middle", "color": "#111"}, "encoding": {"text": {"field": "t"}, "size": {"field": "k", "type": "nominal", "scale": {"domain": ["title", "letter", "n"], "range": [22.4, 24, 18]}, "legend": null}}},
{"data": {"name": "txB"}, "transform": [{"filter": "datum.k === 'all' || datum.k === 'pair'"}], "mark": {"type": "text", "baseline": "middle", "fontSize": 17}, "encoding": {"text": {"field": "t"}, "color": {"field": "k", "type": "nominal", "scale": {"domain": ["all", "pair"], "range": ["#3a3a3a", "#3838d8"]}, "legend": null}}}
]
}
],
"resolve": {"scale": {"x": "independent"}}
}
],
"spacing": -8
},
{
"width": 393, "height": 150,
"encoding": {
"x": {"field": "cx", "type": "quantitative", "axis": null, "scale": {"domain": [0.5, 3.5], "nice": false, "zero": false}},
"y": {"field": "cy", "type": "quantitative", "axis": null, "scale": {"domain": [-101, -15], "nice": false, "zero": false}}
},
"layer": [
{"data": {"name": "capF"}, "mark": {"type": "line", "strokeWidth": 1.6, "color": "#2a2a2a"}, "encoding": {"detail": {"field": "f"}}},
{"data": {"name": "cap"}, "transform": [{"filter": "datum.p === 'b'"}], "mark": {"type": "text", "align": "left", "baseline": "middle", "font": "Open Sans", "fontSize": 19.2, "fontWeight": "bold", "color": "#231f20"}, "encoding": {"text": {"field": "t"}}},
{"data": {"name": "cap"}, "transform": [{"filter": "datum.p === 'n'"}], "mark": {"type": "text", "align": "left", "baseline": "middle", "font": "Open Sans", "fontSize": 18.7, "color": "#231f20"}, "encoding": {"text": {"field": "t"}}}
]
}
],
"spacing": -10,
"config": {
"view": {"stroke": null},
"font": "Liberation Sans",
"axis": {"domainColor": "#000", "tickColor": "#000", "labelColor": "#000", "titleColor": "#000", "labelFont": "Liberation Sans", "titleFont": "Liberation Sans", "labelFontWeight": "bold", "titleFontWeight": "bold", "grid": false},
"axisY": {"labelFontSize": 17, "tickSize": 9, "tickWidth": 3, "domainWidth": 4, "labelPadding": 2, "titleFontSize": 15, "titlePadding": 6},
"axisX": {"labelFontSize": 16, "tickSize": 6, "tickWidth": 3, "domainWidth": 4, "labelPadding": 3, "labelAngle": 0}
}
}
